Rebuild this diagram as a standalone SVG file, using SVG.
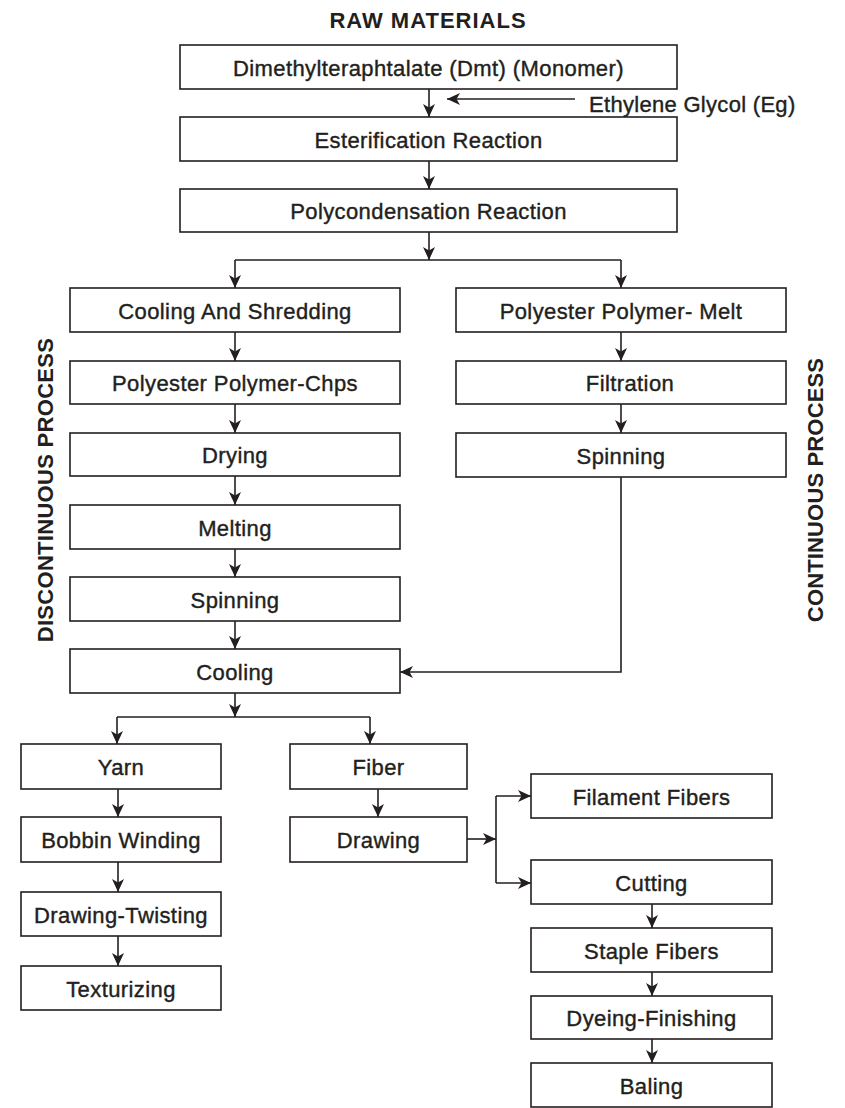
<svg xmlns="http://www.w3.org/2000/svg" width="845" height="1108" viewBox="0 0 845 1108">
<defs>
<marker id="ah" viewBox="0 0 13 13" refX="13" refY="6.5" markerWidth="13" markerHeight="13" markerUnits="userSpaceOnUse" orient="auto">
<path d="M0,0.5 L13,6.5 L0,12.5 L3.5,6.5 z" fill="#231f20"/>
</marker>
<style>
.box{fill:#fff;stroke:#231f20;stroke-width:1.6}
.t{font-family:"Liberation Sans",Arial,sans-serif;font-size:22px;fill:#231f20;stroke:#231f20;stroke-width:0.4;text-anchor:middle;letter-spacing:0.4px}
.h{font-family:"Liberation Sans",Arial,sans-serif;font-size:22px;font-weight:bold;fill:#231f20;text-anchor:middle}
.c path,.c line,.c polyline{fill:none;stroke:#231f20;stroke-width:1.6}
.a{marker-end:url(#ah)}
</style>
</defs>
<rect width="845" height="1108" fill="#fff"/>
<text class="h" x="428" y="28" style="letter-spacing:1px">RAW MATERIALS</text>
<text class="h" transform="translate(53,490) rotate(-90)" style="letter-spacing:0.3px">DISCONTINUOUS PROCESS</text>
<text class="h" transform="translate(823,490) rotate(-90)" style="letter-spacing:0.15px">CONTINUOUS PROCESS</text>
<text class="t" x="589" y="112" style="text-anchor:start;letter-spacing:0.3px">Ethylene Glycol (Eg)</text>

<g id="n-dmt"><rect class="box" x="180" y="45" width="497" height="44"/><text class="t" x="428.5" y="76">Dimethylteraphtalate (Dmt) (Monomer)</text></g>
<g id="n-ester"><rect class="box" x="180" y="117" width="497" height="44"/><text class="t" x="428.5" y="147.5">Esterification Reaction</text></g>
<g id="n-poly"><rect class="box" x="180" y="189" width="497" height="43"/><text class="t" x="428.5" y="219">Polycondensation Reaction</text></g>

<g id="n-cool-shred"><rect class="box" x="70" y="288" width="330" height="44"/><text class="t" x="235" y="318.5">Cooling And Shredding</text></g>
<g id="n-chips"><rect class="box" x="70" y="361" width="330" height="43"/><text class="t" x="235" y="391">Polyester Polymer-Chps</text></g>
<g id="n-drying"><rect class="box" x="70" y="433" width="330" height="43"/><text class="t" x="235" y="463">Drying</text></g>
<g id="n-melting"><rect class="box" x="70" y="505" width="330" height="44"/><text class="t" x="235" y="535.5">Melting</text></g>
<g id="n-spin-l"><rect class="box" x="70" y="577" width="330" height="44"/><text class="t" x="235" y="607.5">Spinning</text></g>
<g id="n-cooling"><rect class="box" x="70" y="649" width="330" height="44"/><text class="t" x="235" y="679.5">Cooling</text></g>

<g id="n-melt"><rect class="box" x="456" y="288" width="330" height="44"/><text class="t" x="621" y="318.5">Polyester Polymer- Melt</text></g>
<g id="n-filtration"><rect class="box" x="456" y="361" width="330" height="43"/><text class="t" x="630" y="391">Filtration</text></g>
<g id="n-spin-r"><rect class="box" x="456" y="433" width="330" height="44"/><text class="t" x="621" y="463.5">Spinning</text></g>

<g id="n-yarn"><rect class="box" x="21" y="744" width="200" height="45"/><text class="t" x="121" y="775">Yarn</text></g>
<g id="n-bobbin"><rect class="box" x="21" y="817" width="200" height="45"/><text class="t" x="121" y="848">Bobbin Winding</text></g>
<g id="n-dtwist"><rect class="box" x="21" y="892" width="200" height="44"/><text class="t" x="121" y="922.5">Drawing-Twisting</text></g>
<g id="n-textur"><rect class="box" x="21" y="966" width="200" height="44"/><text class="t" x="121" y="996.5">Texturizing</text></g>

<g id="n-fiber"><rect class="box" x="290" y="744" width="177" height="45"/><text class="t" x="378.5" y="775">Fiber</text></g>
<g id="n-drawing"><rect class="box" x="290" y="817" width="177" height="45"/><text class="t" x="378.5" y="848">Drawing</text></g>

<g id="n-filament"><rect class="box" x="531" y="774" width="241" height="44"/><text class="t" x="651.5" y="804.5">Filament Fibers</text></g>
<g id="n-cutting"><rect class="box" x="531" y="860" width="241" height="44"/><text class="t" x="651.5" y="890.5">Cutting</text></g>
<g id="n-staple"><rect class="box" x="531" y="928" width="241" height="44"/><text class="t" x="651.5" y="958.5">Staple Fibers</text></g>
<g id="n-dyeing"><rect class="box" x="531" y="996" width="241" height="43"/><text class="t" x="651.5" y="1026">Dyeing-Finishing</text></g>
<g id="n-baling"><rect class="box" x="531" y="1063" width="241" height="44"/><text class="t" x="651.5" y="1093.5">Baling</text></g>

<g id="connectors" class="c">
<line class="a" x1="429" y1="89" x2="429" y2="117"/>
<line class="a" x1="575" y1="99" x2="447" y2="99"/>
<line class="a" x1="429" y1="161" x2="429" y2="189"/>
<line class="a" x1="429" y1="232" x2="429" y2="260"/>
<line x1="235" y1="260" x2="621" y2="260"/>
<line class="a" x1="235" y1="260" x2="235" y2="288"/>
<line class="a" x1="621" y1="260" x2="621" y2="288"/>
<line class="a" x1="235" y1="332" x2="235" y2="361"/>
<line class="a" x1="235" y1="404" x2="235" y2="433"/>
<line class="a" x1="235" y1="476" x2="235" y2="505"/>
<line class="a" x1="235" y1="549" x2="235" y2="577"/>
<line class="a" x1="235" y1="621" x2="235" y2="649"/>
<line class="a" x1="621" y1="332" x2="621" y2="361"/>
<line class="a" x1="621" y1="404" x2="621" y2="433"/>
<polyline class="a" points="621,477 621,672 400,672"/>
<line class="a" x1="235" y1="693" x2="235" y2="717"/>
<line x1="117" y1="717" x2="370" y2="717"/>
<line class="a" x1="117" y1="717" x2="117" y2="744"/>
<line class="a" x1="370" y1="717" x2="370" y2="744"/>
<line class="a" x1="118" y1="789" x2="118" y2="817"/>
<line class="a" x1="118" y1="862" x2="118" y2="892"/>
<line class="a" x1="118" y1="936" x2="118" y2="966"/>
<line class="a" x1="378" y1="789" x2="378" y2="817"/>
<line class="a" x1="467" y1="839" x2="496" y2="839"/>
<line x1="496" y1="796" x2="496" y2="883"/>
<line class="a" x1="496" y1="796" x2="531" y2="796"/>
<line class="a" x1="496" y1="883" x2="531" y2="883"/>
<line class="a" x1="652" y1="904" x2="652" y2="928"/>
<line class="a" x1="652" y1="972" x2="652" y2="996"/>
<line class="a" x1="652" y1="1039" x2="652" y2="1063"/>
</g>
</svg>
